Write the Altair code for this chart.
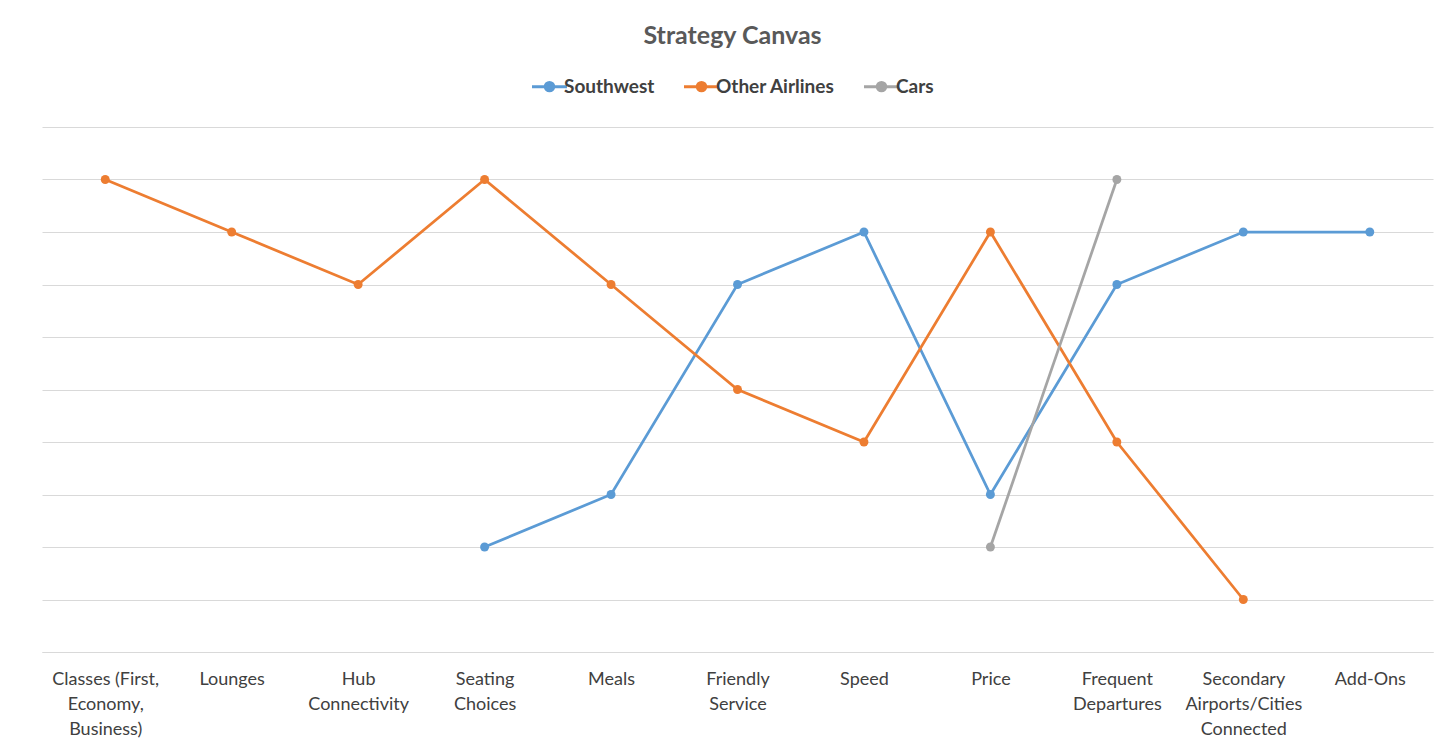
import altair as alt
import pandas as pd

categories = [
    "Classes (First,|Economy,|Business)", "Lounges", "Hub|Connectivity",
    "Seating|Choices", "Meals", "Friendly|Service", "Speed", "Price",
    "Frequent|Departures", "Secondary|Airports/Cities|Connected", "Add-Ons",
]
southwest = [None, None, None, 2, 3, 7, 8, 3, 7, 8, 8]
other_airlines = [9, 8, 7, 9, 7, 5, 4, 8, 4, 1, None]
cars = [None, None, None, None, None, None, None, 2, 9, None, None]
series = ["Southwest", "Other Airlines", "Cars"]
colors = ["#5B9BD5", "#ED7D31", "#A5A5A5"]

rows = []
for name, vals in zip(series, [southwest, other_airlines, cars]):
    for i, (c, v) in enumerate(zip(categories, vals)):
        if v is not None:
            rows.append({"factor": c, "score": v, "series": name, "idx": i})
df = pd.DataFrame(rows)

W, H = 1391, 525
legend_path = ("M-1.75,0 L1.75,0 M-0.42,0 A0.42,0.42 0 1,1 0.42,0 "
               "A0.42,0.42 0 1,1 -0.42,0 Z")

x = alt.X(
    "factor:N", sort=categories,
    scale=alt.Scale(type="point", padding=0.5),
    axis=alt.Axis(title=None, labelAngle=0, labelExpr="split(datum.label, '|')",
                  ticks=False, domainColor="#D9D9D9", domainWidth=1,
                  labelFont="Lato", labelFontSize=18, labelLineHeight=25,
                  labelColor="#404040", labelPadding=18, labelBaseline="top"),
)
y = alt.Y(
    "score:Q", scale=alt.Scale(domain=[0, 10]),
    axis=alt.Axis(title=None, labels=False, ticks=False, domain=False,
                  values=list(range(11)), gridColor="#D9D9D9", gridWidth=1),
)
color = alt.Color(
    "series:N", sort=series,
    scale=alt.Scale(domain=series, range=colors),
    legend=alt.Legend(orient="none", legendX=496, legendY=-52,
                      direction="horizontal", title=None,
                      labelFont="Lato", labelFontSize=19, labelFontWeight="bold",
                      labelColor="#404040", symbolType=legend_path,
                      symbolSize=400, symbolStrokeWidth=3,
                      columnPadding=23, labelOffset=3),
)

base = alt.Chart(df).encode(x=x, y=y, color=color, order=alt.Order("idx:Q"))
lines = base.mark_line(strokeWidth=2.75)
points = base.mark_point(filled=True, size=80, opacity=1)

chart = (
    alt.layer(lines, points)
    .properties(
        width=W, height=H,
        title=alt.TitleParams("Strategy Canvas", font="Lato", fontSize=25,
                              fontWeight="bold", color="#595959",
                              anchor="middle", offset=26, dx=-5),
        autosize=alt.AutoSizeParams(type="none"),
        padding={"left": 34, "top": 119, "right": 10, "bottom": 90},
    )
    .configure(background="white")
    .configure_view(strokeWidth=0, stroke=None)
)

chart.save("out.html", embed_options={"renderer": "svg", "actions": False})
